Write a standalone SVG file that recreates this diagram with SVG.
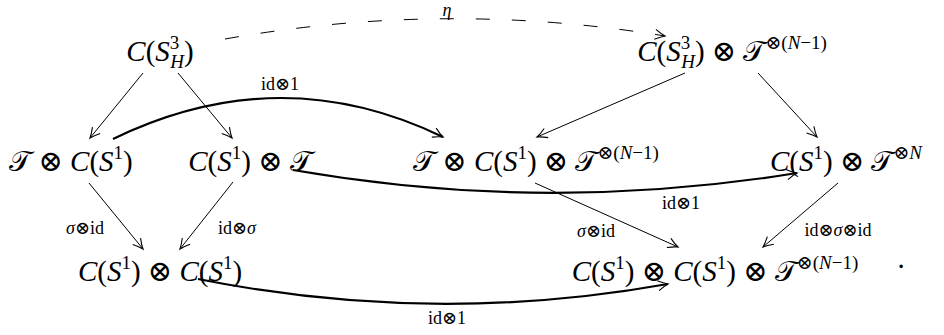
<svg xmlns="http://www.w3.org/2000/svg" width="944" height="335" viewBox="0 0 944 335">
<style>
.t{font-family:"Liberation Serif","Times New Roman",serif;font-size:29px;fill:#000;text-anchor:middle}
.i{font-style:italic}
.cal{font-family:"DejaVu Serif","DejaVu Sans","Noto Sans",serif;font-style:normal}
.op{font-family:"DejaVu Sans ExtraLight","DejaVu Sans","DejaVu Serif",sans-serif;font-weight:200;font-style:normal}
.s{font-size:19px}
.lbl{font-family:"Liberation Serif","Times New Roman",serif;font-size:18px;fill:#000;text-anchor:middle}
.ln{stroke:#000;stroke-width:1;fill:none;marker-end:url(#ah)}
.th{stroke-width:2.2}
.da{stroke-dasharray:14 22}
</style>
<defs>
<marker id="ah" markerUnits="userSpaceOnUse" viewBox="-11 -6 13 12" refX="0" refY="0" markerWidth="13" markerHeight="12" orient="auto" overflow="visible">
<path d="M-10,-5 Q-4,-1.3 0,0 Q-4,1.3 -10,5" stroke="#000" stroke-width="1.1" fill="none"/>
</marker>
</defs>
<rect width="944" height="335" fill="#fff"/>
<g id="connectors">
<path class="ln da" d="M225,39 Q445,0 665,36"/>
<path class="ln" d="M143,73 L90,138"/>
<path class="ln" d="M178,73 L232,138"/>
<path class="ln" d="M685,73 L537,137"/>
<path class="ln" d="M758,73 L817,137"/>
<path class="ln" d="M89,183 L143,249"/>
<path class="ln" d="M233,182 L180,249"/>
<path class="ln" d="M535,183 L678,247"/>
<path class="ln" d="M838,183 L763,247"/>
<path class="ln th" d="M113,139 Q280,58 443,137"/>
<path class="ln th" d="M293,170 Q545,214 797,173"/>
<path class="ln th" d="M198,279 Q433,326 668,284"/>
<text class="lbl i" x="447" y="16">η</text>
<text class="lbl" x="280" y="90">id<tspan class="op">⊗</tspan>1</text>
<text class="lbl" x="681" y="209">id<tspan class="op">⊗</tspan>1</text>
<text class="lbl" x="447" y="324">id<tspan class="op">⊗</tspan>1</text>
<text class="lbl" x="85" y="234"><tspan class="i">σ</tspan><tspan class="op">⊗</tspan>id</text>
<text class="lbl" x="237" y="234">id<tspan class="op">⊗</tspan><tspan class="i">σ</tspan></text>
<text class="lbl" x="596" y="237"><tspan class="i">σ</tspan><tspan class="op">⊗</tspan>id</text>
<text class="lbl" x="838" y="236">id<tspan class="op">⊗</tspan><tspan class="i">σ</tspan><tspan class="op">⊗</tspan>id</text>
</g>
<g id="n1"><text class="t" x="160" y="61"><tspan class="i">C</tspan>(<tspan class="i">S</tspan><tspan class="s" dy="-12">3</tspan><tspan class="s i" dx="-9" dy="19">H</tspan><tspan dy="-7">)</tspan></text></g>
<g id="n2"><text class="t" x="732" y="61"><tspan class="i">C</tspan>(<tspan class="i">S</tspan><tspan class="s" dy="-12">3</tspan><tspan class="s i" dx="-9" dy="19">H</tspan><tspan dy="-7">) </tspan><tspan class="op">⊗</tspan> <tspan class="cal">𝒯</tspan><tspan class="s" dy="-12"><tspan class="op">⊗</tspan>(<tspan class="i">N</tspan>−1)</tspan></text></g>
<g id="n3"><text class="t" x="71" y="171"><tspan class="cal">𝒯</tspan> <tspan class="op">⊗</tspan> <tspan class="i">C</tspan>(<tspan class="i">S</tspan><tspan class="s" dy="-12">1</tspan><tspan dy="12">)</tspan></text></g>
<g id="n4"><text class="t" x="250" y="171"><tspan class="i">C</tspan>(<tspan class="i">S</tspan><tspan class="s" dy="-12">1</tspan><tspan dy="12">) </tspan><tspan class="op">⊗</tspan> <tspan class="cal">𝒯</tspan></text></g>
<g id="n5"><text class="t" x="536" y="171"><tspan class="cal">𝒯</tspan> <tspan class="op">⊗</tspan> <tspan class="i">C</tspan>(<tspan class="i">S</tspan><tspan class="s" dy="-12">1</tspan><tspan dy="12">) </tspan><tspan class="op">⊗</tspan> <tspan class="cal">𝒯</tspan><tspan class="s" dy="-12"><tspan class="op">⊗</tspan>(<tspan class="i">N</tspan>−1)</tspan></text></g>
<g id="n6"><text class="t" x="846" y="171"><tspan class="i">C</tspan>(<tspan class="i">S</tspan><tspan class="s" dy="-12">1</tspan><tspan dy="12">) </tspan><tspan class="op">⊗</tspan> <tspan class="cal">𝒯</tspan><tspan class="s" dy="-12"><tspan class="op">⊗</tspan><tspan class="i">N</tspan></tspan></text></g>
<g id="n7"><text class="t" x="160" y="281"><tspan class="i">C</tspan>(<tspan class="i">S</tspan><tspan class="s" dy="-12">1</tspan><tspan dy="12">) </tspan><tspan class="op">⊗</tspan> <tspan class="i">C</tspan>(<tspan class="i">S</tspan><tspan class="s" dy="-12">1</tspan><tspan dy="12">)</tspan></text></g>
<g id="n8"><text class="t" x="715" y="281"><tspan class="i">C</tspan>(<tspan class="i">S</tspan><tspan class="s" dy="-12">1</tspan><tspan dy="12">) </tspan><tspan class="op">⊗</tspan> <tspan class="i">C</tspan>(<tspan class="i">S</tspan><tspan class="s" dy="-12">1</tspan><tspan dy="12">) </tspan><tspan class="op">⊗</tspan> <tspan class="cal">𝒯</tspan><tspan class="s" dy="-12"><tspan class="op">⊗</tspan>(<tspan class="i">N</tspan>−1)</tspan></text></g>
<g id="period"><text class="t" x="901" y="268">.</text></g>
</svg>
